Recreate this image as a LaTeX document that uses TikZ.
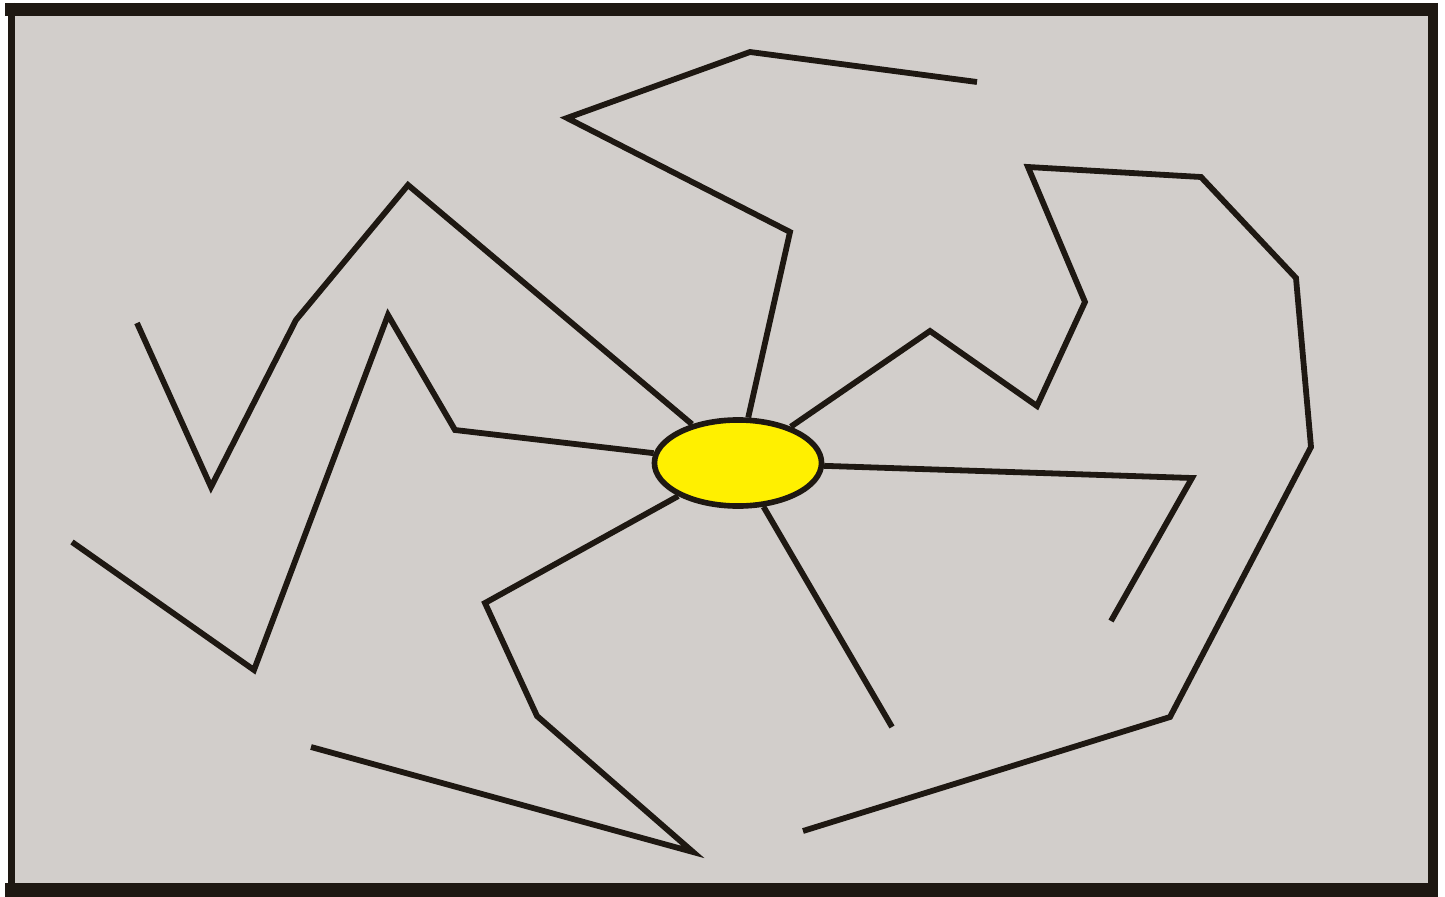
\documentclass[tikz,border=0pt]{standalone}
\definecolor{bggray}{RGB}{210,206,203}
\definecolor{ink}{RGB}{30,24,18}
\definecolor{sunyellow}{RGB}{255,240,0}
\tikzset{
  ray/.style={draw=ink, line width=1.65pt, line join=miter, line cap=butt},
  hub/.style={ellipse, draw=ink, line width=1.6pt, fill=sunyellow, minimum width=1.67cm, minimum height=0.86cm, inner sep=0pt},
  frameline/.style={draw=ink, line cap=butt}
}
\usetikzlibrary{shapes.geometric}
\begin{document}
\begin{tikzpicture}[x=0.01cm, y=-0.01cm]
\useasboundingbox (0,0) rectangle (1445,897);
\fill[bggray] (11,9) rectangle (1433,890);
\draw[frameline, line width=3.9pt] (5,9.5) -- (1438,9.5);
\draw[frameline, line width=2pt] (11.5,3) -- (11.5,897);
\draw[frameline, line width=2.9pt] (1433,3) -- (1433,897);
\draw[frameline, line width=4pt] (5,890) -- (1438,890);
\node[hub] (c) at (738,463) {};
\draw[ray] (c) -- (790,232) -- (567,118) -- (750,52) -- (977,82);
\draw[ray] (c) -- (408,185) -- (296,320) -- (211,487) -- (137,323);
\draw[ray] (c) -- (455,430) -- (388,315) -- (254,670) -- (72,542);
\draw[ray] (c) -- (485,603) -- (537,716) -- (693,852) -- (311,747);
\draw[ray] (c) -- (892,727);
\draw[ray] (c) -- (1192,478) -- (1111,621);
\draw[ray] (c) -- (930,331) -- (1037,406) -- (1085,302) -- (1028,167) -- (1201,177) -- (1296,278) -- (1311,447) -- (1170,717) -- (803,831);
\end{tikzpicture}
\end{document}
